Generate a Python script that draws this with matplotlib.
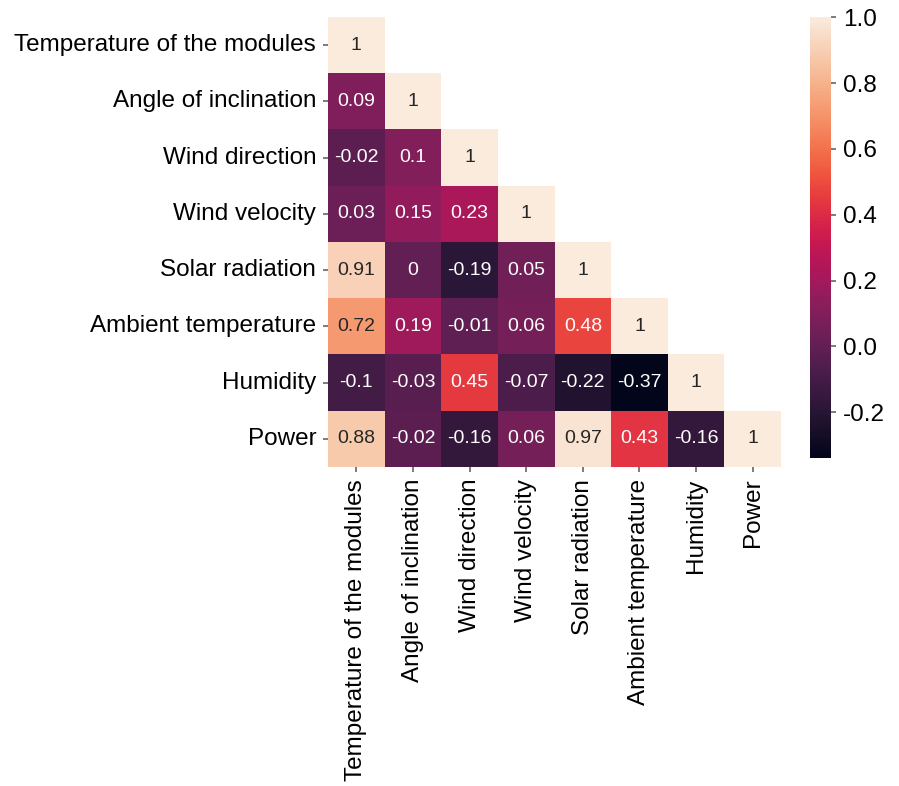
import numpy as np
import matplotlib
matplotlib.use("Agg")
import matplotlib.pyplot as plt
import seaborn as sns

plt.rcParams['font.family'] = ['Liberation Sans', 'DejaVu Sans']

labels = ['Temperature of the modules', 'Angle of inclination', 'Wind direction',
          'Wind velocity', 'Solar radiation', 'Ambient temperature', 'Humidity', 'Power']

# lower triangle of the correlation matrix, row by row
rows = [
    [1],
    [0.09, 1],
    [-0.02, 0.1, 1],
    [0.03, 0.15, 0.23, 1],
    [0.91, 0, -0.19, 0.05, 1],
    [0.72, 0.19, -0.01, 0.06, 0.48, 1],
    [-0.1, -0.03, 0.45, -0.07, -0.22, -0.37, 1],
    [0.88, -0.02, -0.16, 0.06, 0.97, 0.43, -0.16, 1],
]

n = len(labels)
corr = np.zeros((n, n))
for i, r in enumerate(rows):
    for j, v in enumerate(r):
        corr[i, j] = v
        corr[j, i] = v
mask = np.triu(np.ones((n, n), dtype=bool), k=1)

fig = plt.figure(figsize=(8.99, 7.86), dpi=100)
ax = fig.add_axes([0.3649, 0.4059, 0.5039, 0.5725])
cax = fig.add_axes([0.901, 0.4169, 0.0234, 0.561])

sns.heatmap(corr, mask=mask, annot=True, fmt='.2g', cmap='rocket',
            vmin=-0.34, vmax=1.0, ax=ax, cbar_ax=cax,
            xticklabels=labels, yticklabels=labels,
            annot_kws={'fontsize': 14})

ax.set_xticklabels(labels, rotation=90, fontsize=17.5)
ax.set_yticklabels(labels, rotation=0, fontsize=17.5)
ax.tick_params(length=3.5, width=1.2, color='#666666', pad=5)

cax.tick_params(labelsize=17.5, length=3.5, width=1.2, color='#666666', pad=5)
cax.set_yticks([-0.2, 0.0, 0.2, 0.4, 0.6, 0.8, 1.0])
cax.set_yticklabels(['-0.2', '0.0', '0.2', '0.4', '0.6', '0.8', '1.0'])
for s in cax.spines.values():
    s.set_visible(False)

fig.savefig('out.png', dpi=100, facecolor='white')
